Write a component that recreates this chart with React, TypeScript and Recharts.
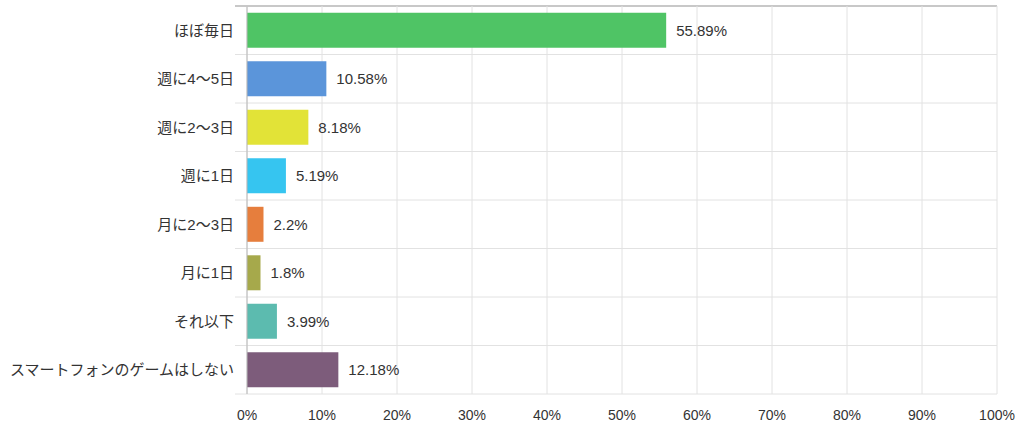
import React from "react";
import { BarChart, Bar, XAxis, YAxis, CartesianGrid, Cell, LabelList } from "recharts";

const categories = [
  "ほぼ毎日",
  "週に4〜5日",
  "週に2〜3日",
  "週に1日",
  "月に2〜3日",
  "月に1日",
  "それ以下",
  "スマートフォンのゲームはしない",
];
const values = [55.89, 10.58, 8.18, 5.19, 2.2, 1.8, 3.99, 12.18];
const colors = ["#4fc465", "#5b95da", "#e2e337", "#36c5f0", "#e67e3d", "#a6a94b", "#5cbbaf", "#7d5c7b"];
const xTicks = [0, 10, 20, 30, 40, 50, 60, 70, 80, 90, 100];

const data = categories.map((name, i) => ({ name, value: values[i] }));

const FONT = "'Liberation Sans', Arial, 'Noto Sans CJK JP', sans-serif";

const YTick = (props: any) => {
  const { y, payload } = props;
  return (
    <text x={234} y={y} dy="0.36em" textAnchor="end" fontSize={15} fill="#333" fontFamily={FONT}>
      {payload.value}
    </text>
  );
};

const XTick = (props: any) => {
  const { x, y, payload } = props;
  return (
    <text x={x} y={y + 26} textAnchor="middle" fontSize={14} fill="#333" fontFamily={FONT}>
      {`${payload.value}%`}
    </text>
  );
};

const HLine = (props: any) => {
  const { x1, x2, y1, y2, index } = props;
  const isTop = index === 0;
  return (
    <line
      key={`h-${index}`}
      x1={x1 - 12}
      x2={x2}
      y1={y1}
      y2={y2}
      stroke={isTop ? "#c8c8c8" : "#e2e2e2"}
      strokeWidth={isTop ? 2 : 1}
    />
  );
};

export default function App() {
  return (
    <div style={{ position: "absolute", left: 0, top: 0, background: "#fff" }}>
      <BarChart
        width={1024}
        height={426}
        data={data}
        layout="vertical"
        margin={{ top: 6, right: 27, bottom: 0, left: 0 }}
        barCategoryGap="14%"
      >
        <CartesianGrid
          stroke="#e2e2e2"
          horizontal={HLine as any}
          horizontalCoordinatesGenerator={({ offset }: any) =>
            Array.from({ length: categories.length + 1 }, (_, i) => offset.top + (i * offset.height) / categories.length)
          }
        />
        <XAxis
          type="number"
          domain={[0, 100]}
          ticks={xTicks}
          height={32}
          axisLine={false}
          tickLine={false}
          tickSize={0}
          tickMargin={0}
          tick={<XTick />}
          interval={0}
        />
        <YAxis
          type="category"
          dataKey="name"
          width={247}
          axisLine={{ stroke: "#b8b8b8" }}
          tickLine={false}
          tick={<YTick />}
          interval={0}
        />
        <Bar dataKey="value" isAnimationActive={false}>
          {data.map((d, i) => (
            <Cell key={d.name} fill={colors[i]} />
          ))}
          <LabelList
            dataKey="value"
            position="right"
            offset={10}
            formatter={(v: any) => `${v}%`}
            style={{ fontSize: 15, fill: "#333", fontFamily: FONT }}
          />
        </Bar>
      </BarChart>
    </div>
  );
}
